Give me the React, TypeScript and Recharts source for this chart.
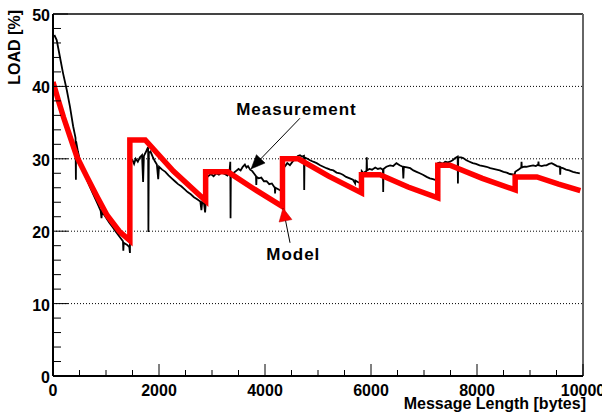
import React from 'react';
import { LineChart, Line, XAxis, YAxis, ReferenceLine, ReferenceDot, CartesianGrid } from 'recharts';

// ---------- data ----------
const yTicks = [0, 2, 4, 6, 8, 10, 12, 14, 16, 18, 20, 22, 24, 26, 28, 30, 32, 34, 36, 38, 40, 42, 44, 46, 48, 50];
const yMajor = [0, 10, 20, 30, 40, 50];
const xTicks = [0, 500, 1000, 1500, 2000, 2500, 3000, 3500, 4000, 4500, 5000, 5500, 6000, 6500, 7000, 7500, 8000, 8500, 9000, 9500, 10000];
const xMajor = [0, 2000, 4000, 6000, 8000, 10000];
const gridLoads = [10, 20, 30, 40, 50];

const modelBytes = [0, 100, 200, 320, 450, 640, 830, 1020, 1260, 1450, 1450, 1740, 2270, 2880, 2880, 3300, 3800, 4330, 4330, 4630, 5200, 5820, 5820, 6170, 6700, 7260, 7260, 7490, 8100, 8720, 8720, 9130, 9540, 9950];
const modelLoad = [40.6, 38.1, 35.7, 33.1, 30.3, 27.5, 24.8, 22.2, 19.9, 18.7, 32.6, 32.6, 28.3, 24.2, 28.2, 28.2, 25.8, 23.4, 30.0, 30.0, 27.6, 25.3, 27.8, 27.8, 26.1, 24.6, 29.1, 29.1, 27.3, 25.7, 27.5, 27.5, 26.5, 25.6];

const measSeg1: [number, number][] = [
  [25, 47.1], [70, 46.4], [130, 44.1], [190, 41.8], [260, 39.5], [320, 37.2], [380, 34.5], [425, 32.9], [432, 27.1], [436, 32.4],
  [470, 31.0], [520, 29.4], [600, 27.8], [680, 26.4], [760, 25.1], [840, 23.8], [900, 22.8], [915, 21.8], [925, 22.7], [990, 22.0],
  [1060, 21.2], [1130, 20.5], [1200, 19.8], [1260, 19.2], [1320, 18.6], [1327, 17.3], [1335, 18.4], [1400, 18.1], [1440, 17.8], [1452, 17.0],
];
const measSeg2: [number, number][] = [
  [1455, 29.4], [1500, 29.8], [1530, 29.3], [1560, 30.0], [1600, 29.6], [1640, 30.2], [1680, 30.5], [1700, 26.8], [1715, 30.4], [1750, 30.9],
  [1780, 31.4], [1795, 31.6], [1800, 19.9], [1808, 30.8], [1840, 31.0], [1880, 30.3], [1920, 29.7], [1960, 29.2], [1985, 27.2], [2000, 28.9],
  [2060, 28.5], [2120, 28.2], [2180, 27.7], [2240, 27.3], [2300, 26.9], [2360, 26.5], [2420, 26.2], [2480, 25.8], [2540, 25.4], [2600, 25.1],
  [2660, 24.7], [2720, 24.4], [2780, 24.1], [2800, 22.9], [2815, 24.0], [2850, 23.8], [2870, 22.6], [2880, 23.7],
];
const measSeg3: [number, number][] = [
  [2885, 27.3], [2930, 27.6], [2980, 27.9], [3030, 27.6], [3080, 28.0], [3130, 27.8], [3180, 28.1], [3240, 27.9], [3290, 27.7], [3330, 28.2],
  [3345, 29.6], [3350, 21.8], [3356, 28.1], [3400, 28.0], [3450, 28.3], [3500, 28.6], [3540, 28.4], [3580, 28.9], [3620, 29.2], [3650, 28.8],
  [3680, 29.0], [3720, 28.5], [3760, 28.3], [3800, 27.9], [3830, 27.6], [3836, 26.4], [3842, 27.5], [3880, 27.3], [3930, 27.4], [3980, 26.9],
  [4030, 26.9], [4080, 26.5], [4130, 26.6], [4185, 26.0], [4190, 25.2], [4196, 26.0], [4250, 25.8], [4300, 25.6], [4325, 25.3],
];
const measSeg4: [number, number][] = [
  [4335, 29.3], [4380, 29.0], [4420, 29.4], [4470, 29.1], [4520, 29.6], [4570, 30.0], [4620, 30.4], [4660, 30.5], [4700, 30.3], [4735, 30.4],
  [4740, 25.7], [4746, 30.2], [4800, 30.0], [4850, 29.8], [4910, 29.6], [4975, 29.4], [5040, 29.1], [5100, 28.9], [5160, 28.7], [5230, 28.5],
  [5290, 28.4], [5350, 28.1], [5410, 28.0], [5470, 27.8], [5530, 27.5], [5600, 27.3], [5660, 27.1], [5700, 26.6], [5705, 27.0], [5750, 26.8],
  [5815, 26.6],
];
const measSeg5: [number, number][] = [
  [5825, 28.3], [5860, 28.0], [5890, 28.2], [5915, 28.3], [5920, 30.2], [5926, 28.4], [5970, 28.6], [6020, 28.5], [6080, 28.8], [6130, 28.6],
  [6180, 28.7], [6225, 28.5], [6230, 25.4], [6236, 28.6], [6290, 28.9], [6360, 29.1], [6420, 29.0], [6480, 29.4], [6540, 29.1], [6600, 28.9],
  [6610, 27.3], [6620, 28.9], [6680, 28.8], [6740, 28.7], [6800, 28.4], [6860, 28.2], [6920, 28.0], [6980, 27.8], [7050, 27.5], [7110, 27.3],
  [7170, 27.2], [7250, 27.0],
];
const measSeg6: [number, number][] = [
  [7262, 29.4], [7300, 29.5], [7350, 29.3], [7400, 29.6], [7450, 29.5], [7490, 29.6], [7540, 29.8], [7590, 30.1], [7635, 30.3], [7640, 26.6],
  [7646, 30.2], [7700, 30.2], [7740, 30.1], [7800, 29.8], [7860, 29.6], [7920, 29.4], [7980, 29.3], [8050, 29.1], [8120, 29.0], [8180, 28.9],
  [8250, 28.7], [8310, 28.6], [8370, 28.5], [8430, 28.4], [8500, 28.2], [8560, 28.1], [8620, 27.9], [8710, 27.8],
];
const measSeg7: [number, number][] = [
  [8722, 28.2], [8760, 28.4], [8800, 28.6], [8835, 28.8], [8840, 29.6], [8846, 28.8], [8890, 28.9], [8930, 28.9], [8990, 29.0], [9060, 29.1],
  [9110, 29.0], [9155, 29.2], [9160, 29.6], [9166, 29.1], [9220, 29.0], [9270, 29.1], [9310, 29.1], [9360, 29.3], [9410, 29.4], [9460, 29.2],
  [9510, 29.0], [9565, 28.9], [9570, 27.8], [9576, 28.8], [9620, 28.7], [9680, 28.5], [9740, 28.4], [9810, 28.2], [9870, 28.1], [9940, 28.0],
];

// annotation anchor points (data coordinates)
const measLabelAt = { x: 4594, y: 36.05 };
const measArrowFrom = { x: 4660, y: 35.6 };
const measArrowTip = { x: 3736, y: 28.6 };
const modelLabelAt = { x: 4534, y: 16.0 };
const modelArrowFrom = { x: 4472, y: 18.4 };
const modelArrowTip = { x: 4340, y: 23.2 };

const modelData = modelBytes.map((x, i) => ({ x, y: modelLoad[i] }));
const measurementData = [...measSeg1, ...measSeg2, ...measSeg3, ...measSeg4, ...measSeg5, ...measSeg6, ...measSeg7].map(([x, y]) => ({ x, y }));

// ---------- layout / style ----------
const W = 602;
const H = 416;
const PLOT_LEFT = 53;
const PLOT_RIGHT = 583;
const PLOT_TOP = 14;
const PLOT_BOTTOM = 376;
const FONT = '"Liberation Sans", Arial, Helvetica, sans-serif';

function YTick(props: any) {
  const { y, payload } = props;
  const v = payload.value;
  const major = yMajor.includes(v);
  return (
    <g>
      <line x1={PLOT_LEFT} x2={PLOT_LEFT + (major ? 15 : 8)} y1={y} y2={y} stroke="#000" strokeWidth={1} />
      {major && (
        <text x={PLOT_LEFT - 3} y={y + 7} textAnchor="end" fontFamily={FONT} fontWeight="bold" fontSize={16} fill="#000">
          {v}
        </text>
      )}
    </g>
  );
}

function XTick(props: any) {
  const { x, payload } = props;
  const v = payload.value;
  const major = xMajor.includes(v);
  return (
    <g>
      <line x1={x} x2={x} y1={PLOT_BOTTOM} y2={PLOT_BOTTOM - (major ? 12 : 6)} stroke="#000" strokeWidth={1} />
      {major && (
        <text x={x} y={PLOT_BOTTOM + 19.5} textAnchor="middle" fontFamily={FONT} fontWeight="bold" fontSize={16} fill="#000">
          {v}
        </text>
      )}
    </g>
  );
}

function YTitle() {
  return (
    <text transform={`translate(20, 10) rotate(-90)`} textAnchor="end" fontFamily={FONT} fontWeight="bold" fontSize={16} fill="#000">
      LOAD [%]
    </text>
  );
}

function XTitle() {
  return (
    <text x={586} y={409} textAnchor="end" fontFamily={FONT} fontWeight="bold" fontSize={16} fill="#000">
      Message Length [bytes]
    </text>
  );
}

function arrowHead(angle: number, len: number, half: number, fill: string) {
  return (p: any) => (
    <polygon
      points={`0,0 ${-len},${-half} ${-len},${half}`}
      transform={`translate(${p.cx}, ${p.cy}) rotate(${angle})`}
      fill={fill}
      stroke={fill === '#000' ? '#000' : '#c00000'}
      strokeWidth={0.5}
    />
  );
}

function textShape(label: string) {
  return (p: any) => (
    <text x={p.cx} y={p.cy} textAnchor="middle" fontFamily={FONT} fontWeight="bold" fontSize={17} letterSpacing={1} fill="#000">
      {label}
    </text>
  );
}

export default function App() {
  return (
    <div style={{ position: 'absolute', left: 0, top: 0, width: W, height: H, background: '#fff' }}>
      <LineChart width={W} height={H} margin={{ top: PLOT_TOP, right: W - PLOT_RIGHT, bottom: 0, left: 0 }}>
        <CartesianGrid horizontalValues={gridLoads} vertical={false} stroke="#000" strokeDasharray="1 2" />
        <XAxis
          dataKey="x"
          type="number"
          domain={[0, 10000]}
          ticks={xTicks}
          interval={0}
          height={H - PLOT_BOTTOM}
          axisLine={{ stroke: '#000', strokeWidth: 2 }}
          tickLine={false}
          tick={<XTick />}
          allowDataOverflow
          label={<XTitle />}
        />
        <YAxis
          type="number"
          domain={[0, 50]}
          ticks={yTicks}
          interval={0}
          width={PLOT_LEFT}
          axisLine={{ stroke: '#000', strokeWidth: 2 }}
          tickLine={false}
          tick={<YTick />}
          allowDataOverflow
          label={<YTitle />}
        />
        <ReferenceLine y={50} stroke="#444" strokeWidth={2} />
        <ReferenceLine x={10000} stroke="#666" strokeWidth={2} />
        <Line data={measurementData} dataKey="y" type="linear" stroke="#000" strokeWidth={1.8} dot={false} isAnimationActive={false} />
        <Line data={modelData} dataKey="y" type="linear" stroke="#ff0000" strokeWidth={5.5} strokeLinejoin="miter" dot={false} isAnimationActive={false} />
        <ReferenceLine segment={[measArrowFrom, measArrowTip]} stroke="#000" strokeWidth={1} />
        <ReferenceLine segment={[modelArrowFrom, modelArrowTip]} stroke="#000" strokeWidth={1} />
        <ReferenceDot x={measArrowTip.x} y={measArrowTip.y} r={0} shape={arrowHead(134, 14, 6, '#000')} />
        <ReferenceDot x={modelArrowTip.x} y={modelArrowTip.y} r={0} shape={arrowHead(-101, 13, 6.5, '#ff0000')} />
        <ReferenceDot x={measLabelAt.x} y={measLabelAt.y} r={0} shape={textShape('Measurement')} />
        <ReferenceDot x={modelLabelAt.x} y={modelLabelAt.y} r={0} shape={textShape('Model')} />
      </LineChart>
    </div>
  );
}
